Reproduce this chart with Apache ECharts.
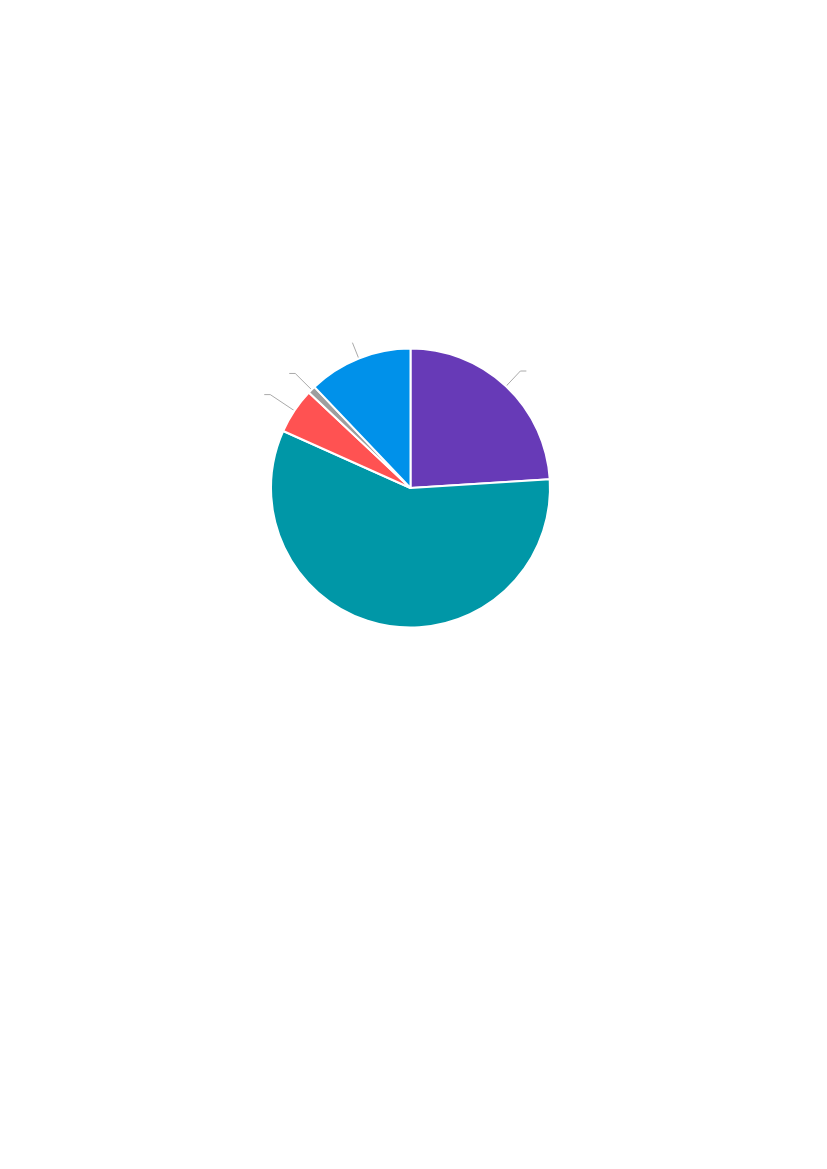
<!DOCTYPE html>
<html>
<head>
<meta charset="utf-8">
<script src="https://cdn.jsdelivr.net/npm/echarts@6/dist/echarts.min.js"></script>
<style>
html,body{margin:0;padding:0;background:#fff;}
#chart{width:827px;height:1169px;}
</style>
</head>
<body>
<div id="chart"></div>
<script>
var categories = ['A', 'B', 'C', 'D', 'E'];
var values = [24.0, 57.7, 5.3, 0.9, 12.1];
var colors = ['#673ab7', '#0097a7', '#ff5252', '#9e9e9e', '#0091ea'];
var showLabel = [true, false, true, true, true];
var lineLen = [21, 0, 29, 23, 17];
var lineLen2 = [6, 0, 6, 6, 0];

var chart = echarts.init(document.getElementById('chart'), null, {renderer: 'canvas'});
var data = categories.map(function (c, i) {
  return {
    name: c,
    value: values[i],
    itemStyle: { color: colors[i] },
    label: { show: showLabel[i] },
    labelLine: { show: showLabel[i], length: lineLen[i], length2: lineLen2[i] }
  };
});
chart.setOption({
  animation: false,
  backgroundColor: '#ffffff',
  series: [{
    type: 'pie',
    center: [410.5, 488],
    radius: 139.5,
    startAngle: 90,
    clockwise: true,
    itemStyle: { borderColor: '#ffffff', borderWidth: 2 },
    label: { show: true, formatter: '', color: '#ffffff' },
    labelLine: { show: true, lineStyle: { color: '#aaaaaa', width: 1 } },
    emphasis: { disabled: true },
    data: data
  }]
});
</script>
</body>
</html>
